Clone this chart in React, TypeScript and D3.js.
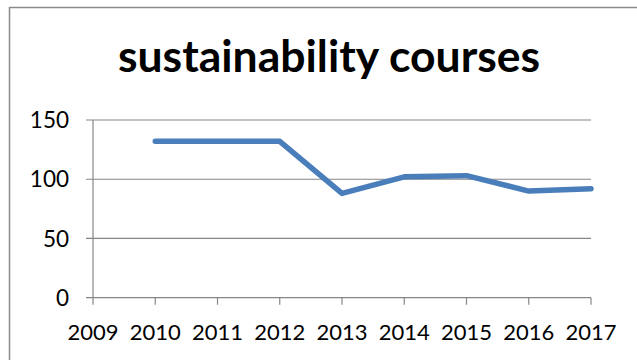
import React from "react";
import * as d3 from "d3";

const years = ["2009", "2010", "2011", "2012", "2013", "2014", "2015", "2016", "2017"];
const courses: (number | null)[] = [null, 132, 132, 132, 88, 102, 103, 90, 92];
const yTicks = [0, 50, 100, 150];
const title = "sustainability courses";

export default function App() {
  const W = 637, H = 360;
  const x = d3.scalePoint<string>().domain(years).range([93, 591]);
  const y = d3.scaleLinear().domain([0, 150]).range([297.7, 120]);
  const pts = years.map((yr, i) => ({ yr, v: courses[i] }));
  const line = d3
    .line<{ yr: string; v: number | null }>()
    .defined((d) => d.v !== null)
    .x((d) => x(d.yr)!)
    .y((d) => y(d.v as number));
  const font = "Lato, 'Open Sans', sans-serif";
  const grid = "#868686";
  return (
    <div style={{ position: "absolute", left: 0, top: 0 }}>
      <svg width={W} height={H} style={{ display: "block", background: "#fff" }}>
        <rect x={9.5} y={7.5} width={640} height={360} fill="#fff" stroke="#8a8a8a" strokeWidth={1.5} />
        <text x={329} y={72} textAnchor="middle" fontFamily={font} fontWeight={700} fontSize={44.5} fill="#000">
          {title}
        </text>
        {yTicks.map((t) => (
          <g key={t}>
            <line x1={86} x2={591} y1={y(t)} y2={y(t)} stroke={grid} strokeWidth={1.2} />
            <text x={69} y={y(t)} dy="0.36em" textAnchor="end" fontFamily={font} fontSize={22.5} fill="#000">
              {t}
            </text>
          </g>
        ))}
        <line x1={93} x2={93} y1={y(150)} y2={y(0)} stroke={grid} strokeWidth={1.2} />
        {years.map((yr) => (
          <g key={yr}>
            <line x1={x(yr)} x2={x(yr)} y1={y(0)} y2={y(0) + 7} stroke={grid} strokeWidth={1.2} />
            <text x={x(yr)} y={340} textAnchor="middle" fontFamily={font} fontSize={22} fill="#000">
              {yr}
            </text>
          </g>
        ))}
        <path d={line(pts) || ""} fill="none" stroke="#4a7ebb" strokeWidth={5.5} strokeLinecap="round" strokeLinejoin="round" />
      </svg>
    </div>
  );
}
